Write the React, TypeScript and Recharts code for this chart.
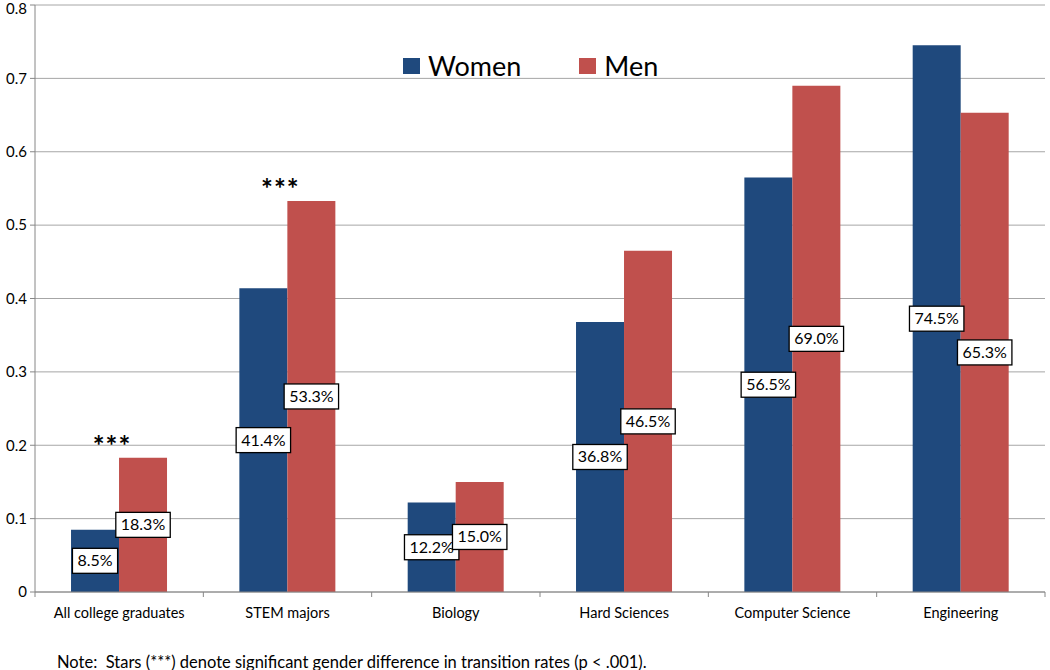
import { Bar, BarChart, CartesianGrid, Legend, LabelList, XAxis, YAxis } from 'recharts';

const categories = ['All college graduates', 'STEM majors', 'Biology', 'Hard Sciences', 'Computer Science', 'Engineering'];
const women = [0.085, 0.414, 0.122, 0.368, 0.565, 0.745];
const men = [0.183, 0.533, 0.15, 0.465, 0.69, 0.653];
const stars = ['***', '***', '', '', '', ''];
const yTicks = [0, 0.1, 0.2, 0.3, 0.4, 0.5, 0.6, 0.7, 0.8];
const seriesOrder = ['Women', 'Men'];

const data = categories.map((name, i) => ({ name, women: women[i], men: men[i], stars: stars[i] }));

const W = 1050;
const H = 670;
const MARGIN = { top: 5, right: 5, left: 0, bottom: 0 };
const Y_WIDTH = 35;
const X_HEIGHT = 78;
const BAND = (W - MARGIN.left - MARGIN.right - Y_WIDTH) / categories.length;

const FONT = 'Lato, sans-serif';
const WOMEN_COLOR = '#1F497D';
const MEN_COLOR = '#C0504D';

// measure label text so the boxes hug it
let ctx: CanvasRenderingContext2D | null = null;
function measure(text: string, size: number) {
  if (!ctx) ctx = document.createElement('canvas').getContext('2d');
  if (!ctx) return text.length * size * 0.5;
  ctx.font = `${size}px Lato`;
  return ctx.measureText(text).width;
}

const BoxLabel = (props: any) => {
  const vb = props.viewBox || {};
  const x = props.x ?? vb.x;
  const y = props.y ?? vb.y;
  const width = props.width ?? vb.width;
  const height = props.height ?? vb.height;
  const text = (Number(props.value) * 100).toFixed(1) + '%';
  const size = 16;
  const bw = measure(text, size) + 10;
  const bh = 25;
  const cx = x + width / 2;
  const cy = y + height / 2;
  return (
    <g>
      <rect x={cx - bw / 2} y={cy - bh / 2} width={bw} height={bh} fill="#FFFFFF" stroke="#000000" strokeWidth={1.3} />
      <text x={cx} y={cy + 5.5} textAnchor="middle" fontSize={size} fontFamily={FONT} fill="#000">
        {text}
      </text>
    </g>
  );
};

const StarLabel = (props: any) => {
  if (!props.value) return null;
  const vb = props.viewBox || {};
  const x = props.x ?? vb.x;
  const y = props.y ?? vb.y;
  return (
    <text x={x - 7} y={y - 2} textAnchor="middle" fontSize={28} fontWeight="bold" fontFamily={FONT} letterSpacing={1} fill="#000">
      {props.value}
    </text>
  );
};

const CategoryTick = (props: any) => {
  const { x, y, payload, index } = props;
  return (
    <g>
      <line x1={x - BAND / 2} x2={x - BAND / 2} y1={y} y2={y + 5} stroke="#868686" />
      {index === categories.length - 1 && (
        <line x1={x + BAND / 2} x2={x + BAND / 2} y1={y} y2={y + 5} stroke="#868686" />
      )}
      <text x={x} y={y + 26} textAnchor="middle" fontSize={14.5} fontFamily={FONT} fill="#000">
        {payload.value}
      </text>
    </g>
  );
};

const renderLegend = (props: any) => {
  const items = [...(props.payload || [])].sort(
    (a: any, b: any) => seriesOrder.indexOf(a.value) - seriesOrder.indexOf(b.value)
  );
  return (
    <div style={{ display: 'flex', alignItems: 'center', fontFamily: FONT }}>
      {items.map((it: any, i: number) => (
        <div key={i} style={{ display: 'flex', alignItems: 'center', marginRight: 58 }}>
          <div style={{ width: 17, height: 16, background: it.color, marginRight: 8 }} />
          <span style={{ fontSize: 27, color: '#000', lineHeight: '30px' }}>{it.value}</span>
        </div>
      ))}
    </div>
  );
};

export default function App() {
  return (
    <div style={{ position: 'absolute', left: 0, top: 0, width: W, height: H, background: '#FFFFFF' }}>
      <BarChart width={W} height={H} data={data} margin={MARGIN} barGap={0} barCategoryGap="21.4%">
        <CartesianGrid vertical={false} stroke="#A6A6A6" />
        <XAxis
          dataKey="name"
          height={X_HEIGHT}
          tickLine={false}
          tickSize={0}
          tickMargin={0}
          axisLine={{ stroke: '#868686' }}
          tick={<CategoryTick />}
          interval={0}
        />
        <YAxis
          width={Y_WIDTH}
          domain={[0, 0.8]}
          ticks={yTicks}
          tickFormatter={(v: number) => (v === 0 ? '0' : v.toFixed(1))}
          tickSize={5}
          tickMargin={3}
          axisLine={{ stroke: '#868686' }}
          tickLine={{ stroke: '#868686' }}
          tick={{ fontSize: 15, fontFamily: FONT, fill: '#000' }}
        />
        <Legend
          layout="horizontal"
          verticalAlign="middle"
          content={renderLegend}
          wrapperStyle={{ position: 'absolute', top: 51, left: 403, width: 400, height: 30 }}
        />
        <Bar dataKey="women" name="Women" fill={WOMEN_COLOR} isAnimationActive={false}>
          <LabelList dataKey="women" content={BoxLabel} />
        </Bar>
        <Bar dataKey="men" name="Men" fill={MEN_COLOR} isAnimationActive={false}>
          <LabelList dataKey="men" content={BoxLabel} />
          <LabelList dataKey="stars" content={StarLabel} />
        </Bar>
      </BarChart>
      <div
        style={{
          position: 'absolute',
          left: 57,
          top: 654,
          fontFamily: FONT,
          fontSize: 16.5,
          lineHeight: '16px',
          color: '#000',
          whiteSpace: 'pre',
        }}
      >
        {'Note:  Stars (***) denote significant gender difference in transition rates (p < .001).'}
      </div>
    </div>
  );
}
